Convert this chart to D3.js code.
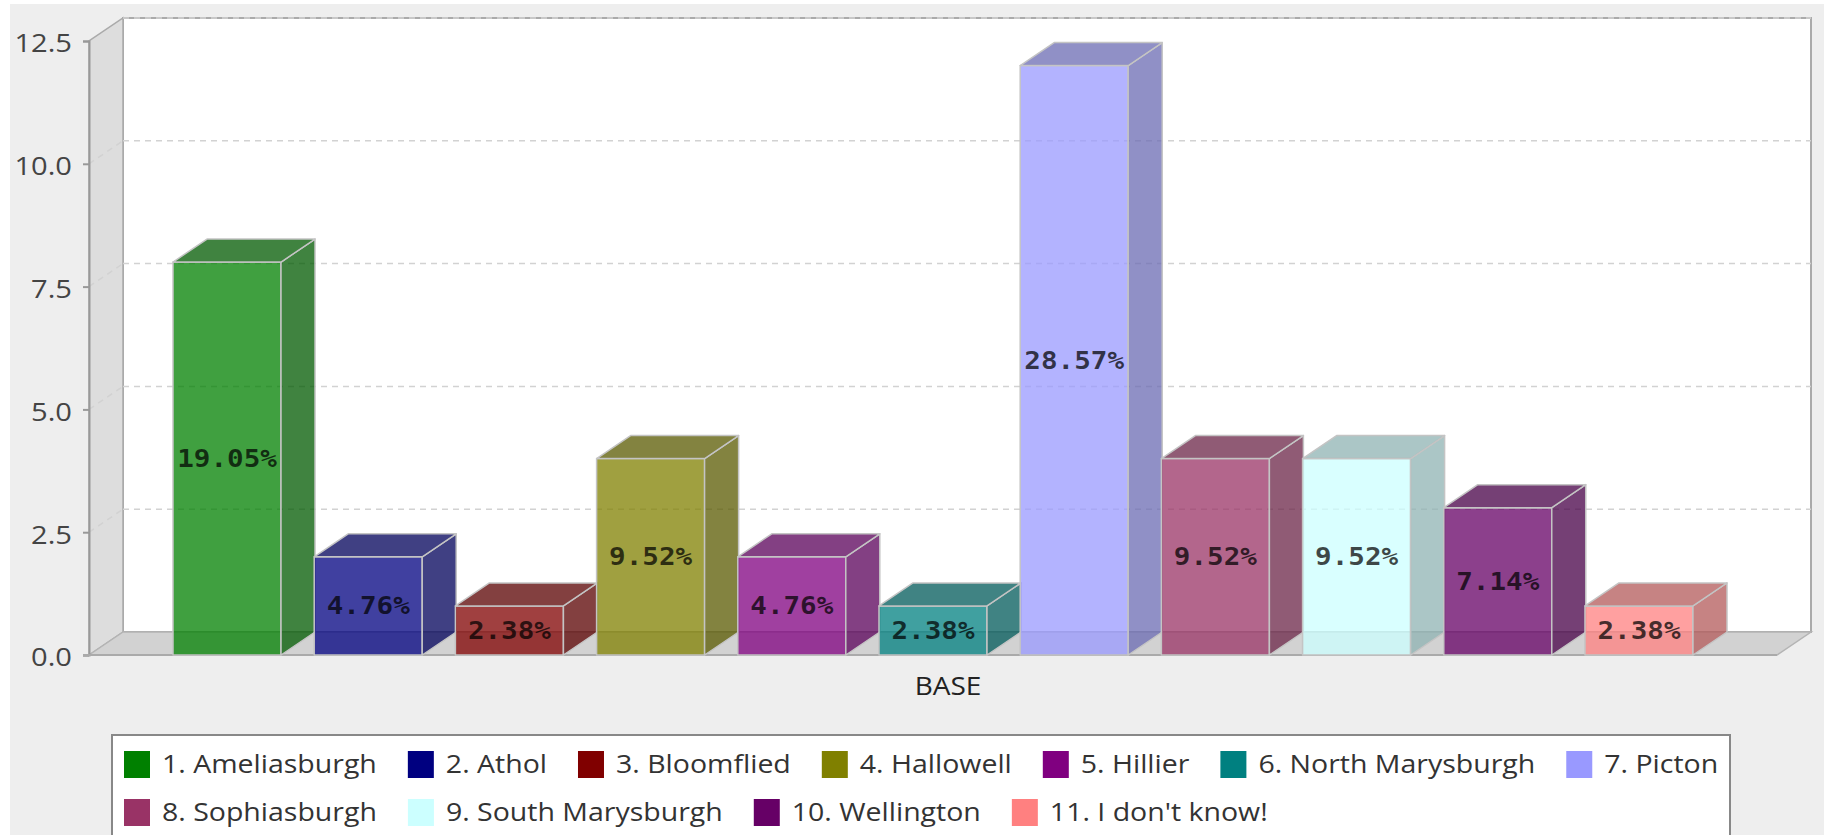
<!DOCTYPE html>
<html>
<head>
<meta charset="utf-8">
<script src="https://cdn.jsdelivr.net/npm/d3@7"></script>
<style>
  body { margin: 0; background: #fff; }
  text { font-family: "Open Sans", sans-serif; }
  .barlabel { font-family: "DejaVu Sans Mono", monospace; font-weight: bold; }
</style>
</head>
<body>
<script>
// series (one per municipality), all in the single category BASE
var categories = ["BASE"];
var seriesNames = ["1. Ameliasburgh", "2. Athol", "3. Bloomflied", "4. Hallowell", "5. Hillier",
  "6. North Marysburgh", "7. Picton", "8. Sophiasburgh", "9. South Marysburgh", "10. Wellington", "11. I don't know!"];
var seriesValues = [8, 2, 1, 4, 2, 1, 12, 4, 4, 3, 1];
var seriesLabels = ["19.05%", "4.76%", "2.38%", "9.52%", "4.76%", "2.38%", "28.57%", "9.52%", "9.52%", "7.14%", "2.38%"];
var seriesColors = ["#008000", "#000080", "#800000", "#808000", "#800080", "#008080",
  "#9999ff", "#993366", "#ccffff", "#660066", "#ff8080"];
var yTicks = [0, 2.5, 5, 7.5, 10, 12.5];

var W = 1824, H = 835;
var sx = 1.12;            // picture is a bit wider than tall, stretch text to match
var dx = 34, dy = 23;     // 3d depth offset
var plotL = 89, plotR = 1777, plotB = 655, plotT = 41;

var svg = d3.select("body").append("svg").attr("width", W).attr("height", H);
svg.append("rect").attr("x", 10).attr("y", 4).attr("width", W - 10).attr("height", H - 4).attr("fill", "#eeeeee");

var x = d3.scaleBand().domain(seriesNames).range([plotL, plotR]).paddingInner(0.235).paddingOuter(0.595);
var y = d3.scaleLinear().domain([0, 12.5]).range([plotB, plotT]);

// walls
var walls = svg.append("g");
walls.append("rect").attr("x", plotL + dx).attr("y", y(12.5) - dy).attr("width", plotR - plotL).attr("height", plotB - y(12.5))
  .attr("fill", "#fff").attr("stroke", "#aaaaaa").attr("stroke-width", 2);
walls.append("polygon").attr("fill", "#dddddd").attr("stroke", "#aaaaaa").attr("stroke-width", 1.5)
  .attr("points", [[plotL, plotB], [plotL, y(12.5)], [plotL + dx, y(12.5) - dy], [plotL + dx, plotB - dy]].join(" "));
walls.append("polygon").attr("fill", "#d2d2d2").attr("stroke", "#b4b4b4").attr("stroke-width", 1.5)
  .attr("points", [[plotL, plotB], [plotL + dx, plotB - dy], [plotR + dx, plotB - dy], [plotR, plotB]].join(" "));

// gridlines on back wall and along the left wall
var grid = svg.append("g").attr("stroke", "#d2d2d2").attr("stroke-width", 1.5).attr("stroke-dasharray", "6,5").attr("fill", "none");
grid.selectAll("line.back").data(yTicks.filter(function(d) { return d > 0; })).enter().append("line").attr("class", "back")
  .attr("x1", plotL + dx).attr("x2", plotR + dx)
  .attr("y1", function(d) { return y(d) - dy; }).attr("y2", function(d) { return y(d) - dy; });
grid.selectAll("line.side").data(yTicks.filter(function(d) { return d > 0 && d < 12.5; })).enter().append("line").attr("class", "side")
  .attr("x1", plotL).attr("x2", plotL + dx)
  .attr("y1", function(d) { return y(d); }).attr("y2", function(d) { return y(d) - dy; });

// y axis
var yAxis = svg.append("g").attr("transform", "translate(" + plotL + ",0)")
  .call(d3.axisLeft(y).tickValues(yTicks).tickFormat(d3.format(".1f")).tickSize(6).tickPadding(9));
yAxis.select(".domain").attr("stroke", "#999999").attr("stroke-width", 2);
yAxis.selectAll(".tick line").attr("stroke", "#999999").attr("stroke-width", 2);
yAxis.selectAll(".tick text").attr("fill", "#444").style("font-size", "26px").attr("dy", "0.42em")
  .attr("transform", "scale(" + sx + ",1)").attr("x", -17 / sx);
svg.append("line").attr("x1", plotL - 6).attr("x2", plotR).attr("y1", plotB).attr("y2", plotB)
  .attr("stroke", "#aaaaaa").attr("stroke-width", 2);

// bars
var bars = svg.append("g").selectAll("g").data(seriesNames).enter().append("g");
function darker(c) { var r = d3.rgb(c); return d3.rgb(r.r * 0.7, r.g * 0.7, r.b * 0.7); }
bars.each(function(d, i) {
  var g = d3.select(this), x0 = x(d), w = x.bandwidth(), yt = y(seriesValues[i]);
  var side = darker(seriesColors[i]);
  g.append("rect").attr("x", x0).attr("y", yt).attr("width", w).attr("height", plotB - yt)
    .attr("fill", seriesColors[i]).attr("fill-opacity", 0.75);
  g.append("polygon").attr("fill", side).attr("fill-opacity", 0.75)
    .attr("points", [[x0 + w, yt], [x0 + w + dx, yt - dy], [x0 + w + dx, plotB - dy], [x0 + w, plotB]].join(" "));
  g.append("polygon").attr("fill", side).attr("fill-opacity", 0.75)
    .attr("points", [[x0, yt], [x0 + dx, yt - dy], [x0 + w + dx, yt - dy], [x0 + w, yt]].join(" "));
  g.selectAll("rect,polygon").attr("stroke", "#c4c4c4").attr("stroke-width", 1.5).attr("stroke-linejoin", "round");
  g.append("text").attr("class", "barlabel").attr("text-anchor", "middle").attr("dominant-baseline", "central")
    .attr("transform", "translate(" + (x0 + w / 2) + "," + ((yt + plotB) / 2) + ") scale(1.15,1)")
    .style("font-size", "24px").attr("fill", "#000").attr("fill-opacity", 0.72).text(seriesLabels[i]);
});

// category label
svg.append("text").attr("text-anchor", "middle").attr("transform", "translate(" + ((plotL + plotR + dx) / 2 - 2) + ",695) scale(" + sx + ",1)")
  .style("font-size", "25px").attr("fill", "#222").text(categories[0]);

// legend
var boxL = 112, boxR = 1730, boxT = 735, lsx = 1.14;
svg.append("rect").attr("x", boxL).attr("y", boxT).attr("width", boxR - boxL).attr("height", 120)
  .attr("fill", "#fff").attr("stroke", "#888").attr("stroke-width", 2);
var lx = 124, ly = 764;
var legend = svg.append("g");
seriesNames.forEach(function(name, i) {
  var item = legend.append("g");
  item.append("rect").attr("x", 0).attr("y", -13).attr("width", 26).attr("height", 27).attr("fill", seriesColors[i]);
  var t = item.append("text").attr("transform", "translate(38,9) scale(" + lsx + ",1)")
    .style("font-size", "25px").attr("fill", "#333").text(name);
  var tw = t.node().getComputedTextLength() * lsx;
  if (lx + 38 + tw > boxR - 4) { lx = 124; ly += 48; }
  item.attr("transform", "translate(" + lx + "," + ly + ")");
  lx += 38 + tw + 31;
});
</script>
</body>
</html>
